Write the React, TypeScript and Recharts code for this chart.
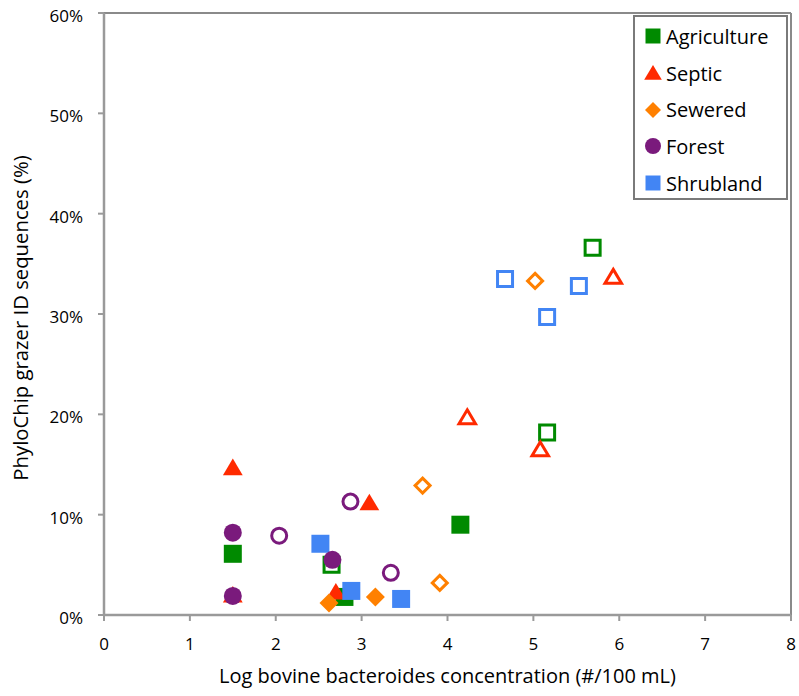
import React from 'react';
import {
  ScatterChart, Scatter, XAxis, YAxis, ReferenceLine, Label,
} from 'recharts';

// ---- data (x = log bovine bacteroides, y = % grazer ID sequences) ----
const agricultureFilled = [
  { x: 2.8, y: 1.8 }, { x: 1.5, y: 6.1 }, { x: 4.15, y: 9.0 },
];
const agricultureOpen = [
  { x: 2.65, y: 5.0 }, { x: 5.16, y: 18.2 }, { x: 5.69, y: 36.6 },
];
const septicFilled = [
  { x: 1.5, y: 2.0 }, { x: 2.7, y: 2.3 }, { x: 1.5, y: 14.7 }, { x: 3.09, y: 11.2 },
];
const septicOpen = [
  { x: 4.23, y: 19.7 }, { x: 5.08, y: 16.5 }, { x: 5.93, y: 33.7 },
];
const seweredFilled = [
  { x: 2.62, y: 1.2 }, { x: 3.16, y: 1.8 },
];
const seweredOpen = [
  { x: 3.71, y: 12.9 }, { x: 3.91, y: 3.2 }, { x: 5.02, y: 33.3 },
];
const forestFilled = [
  { x: 1.5, y: 8.2 }, { x: 1.5, y: 1.9 }, { x: 2.66, y: 5.5 },
];
const forestOpen = [
  { x: 2.04, y: 7.9 }, { x: 2.87, y: 11.3 }, { x: 3.34, y: 4.2 },
];
const shrublandFilled = [
  { x: 2.52, y: 7.1 }, { x: 2.88, y: 2.4 }, { x: 3.46, y: 1.6 },
];
const shrublandOpen = [
  { x: 4.67, y: 33.5 }, { x: 5.16, y: 29.7 }, { x: 5.53, y: 32.8 },
];

const xTicks = [0, 1, 2, 3, 4, 5, 6, 7, 8];
const yTicks = [0, 10, 20, 30, 40, 50, 60];

const GREEN = '#008A00';
const RED = '#FF2A00';
const ORANGE = '#FF8000';
const PURPLE = '#7A1A7C';
const BLUE = '#4285F4';

type Kind = 'square' | 'triangle' | 'diamond' | 'circle';

const legendItems: { name: string; color: string; kind: Kind }[] = [
  { name: 'Agriculture', color: GREEN, kind: 'square' },
  { name: 'Septic', color: RED, kind: 'triangle' },
  { name: 'Sewered', color: ORANGE, kind: 'diamond' },
  { name: 'Forest', color: PURPLE, kind: 'circle' },
  { name: 'Shrubland', color: BLUE, kind: 'square' },
];

const FONT = '"Open Sans", "Noto Sans", sans-serif';

function markerPath(kind: Kind, cx: number, cy: number, s: number): string {
  const h = s / 2;
  if (kind === 'square') {
    return `M${cx - h},${cy - h}H${cx + h}V${cy + h}H${cx - h}Z`;
  }
  if (kind === 'triangle') {
    return `M${cx},${cy - h}L${cx + h * 1.1},${cy + h * 0.85}L${cx - h * 1.1},${cy + h * 0.85}Z`;
  }
  if (kind === 'diamond') {
    return `M${cx},${cy - h}L${cx + h},${cy}L${cx},${cy + h}L${cx - h},${cy}Z`;
  }
  return '';
}

function makeShape(kind: Kind, color: string, filled: boolean) {
  return (props: any) => {
    const { cx, cy } = props;
    if (cx == null || cy == null) return <g />;
    if (kind === 'circle') {
      return filled ? (
        <circle cx={cx} cy={cy} r={9} fill={color} />
      ) : (
        <circle cx={cx} cy={cy} r={7.5} fill="#fff" stroke={color} strokeWidth={3} />
      );
    }
    const size = filled ? (kind === 'diamond' ? 19 : 18) : 15;
    const d = markerPath(kind, cx, cy, size);
    return filled ? (
      <path d={d} fill={color} />
    ) : (
      <path d={d} fill="#fff" stroke={color} strokeWidth={3} strokeLinejoin="miter" />
    );
  };
}

function LegendBox() {
  return (
    <div
      style={{
        position: 'absolute',
        left: 633,
        top: 15,
        border: '2px solid #7a7a7a',
        background: '#fff',
        width: 155,
        height: 185,
        boxSizing: 'border-box',
        padding: '1px 0 0 9px',
        fontFamily: FONT,
        fontSize: 20,
        color: '#000',
      }}
    >
      {legendItems.map((it) => (
        <div key={it.name} style={{ display: 'flex', alignItems: 'center', height: 36.7 }}>
          <svg width={18} height={18} style={{ marginRight: 4 }}>
            {it.kind === 'circle' ? (
              <circle cx={9} cy={9} r={8} fill={it.color} />
            ) : (
              <path d={markerPath(it.kind, 9, 9, it.kind === 'square' ? 15 : 16)} fill={it.color} />
            )}
          </svg>
          <span>{it.name}</span>
        </div>
      ))}
    </div>
  );
}

export default function App() {
  return (
    <div style={{ position: 'absolute', left: 0, top: 0, width: 799, height: 696, background: '#fff' }}>
      <ScatterChart
        width={799}
        height={696}
        margin={{ top: 13, right: 8, bottom: 0, left: 0 }}
      >
        <XAxis
          type="number"
          dataKey="x"
          domain={[0, 8]}
          ticks={xTicks}
          interval={0}
          height={81}
          tickSize={6}
          tickMargin={17}
          tick={{ fill: '#000', fontSize: 17, fontFamily: FONT }}
          axisLine={{ stroke: '#9a9a9a', strokeWidth: 2.5 }}
          tickLine={{ stroke: '#9a9a9a', strokeWidth: 2 }}
        >
          <Label
            value="Log bovine bacteroides concentration (#/100 mL)"
            position="insideBottom"
            offset={13}
            style={{ fill: '#000', fontSize: 20, fontFamily: FONT }}
          />
        </XAxis>
        <YAxis
          type="number"
          dataKey="y"
          domain={[0, 60]}
          ticks={yTicks}
          interval={0}
          width={104}
          tickSize={6}
          tickMargin={15}
          tickFormatter={(v: number) => `${v}%`}
          tick={{ fill: '#000', fontSize: 17, fontFamily: FONT, dy: 3 }}
          axisLine={{ stroke: '#9a9a9a', strokeWidth: 2.5 }}
          tickLine={{ stroke: '#9a9a9a', strokeWidth: 2 }}
        >
          <Label
            value="PhyloChip grazer ID sequences (%)"
            angle={-90}
            position="insideLeft"
            offset={21}
            dy={4}
            style={{ fill: '#000', fontSize: 20.3, fontFamily: FONT, textAnchor: 'middle' }}
          />
        </YAxis>
        <ReferenceLine y={60} stroke="#8a8a8a" strokeWidth={2} />
        <ReferenceLine x={8} stroke="#8a8a8a" strokeWidth={2} />

        <Scatter name="Agriculture" data={agricultureFilled} isAnimationActive={false} shape={makeShape('square', GREEN, true)} />
        <Scatter name="Septic" data={septicFilled} isAnimationActive={false} shape={makeShape('triangle', RED, true)} />
        <Scatter name="Shrubland" data={shrublandFilled} isAnimationActive={false} shape={makeShape('square', BLUE, true)} />
        <Scatter name="Sewered" data={seweredFilled} isAnimationActive={false} shape={makeShape('diamond', ORANGE, true)} />
        <Scatter name="Agriculture open" data={agricultureOpen} isAnimationActive={false} shape={makeShape('square', GREEN, false)} />
        <Scatter name="Forest" data={forestFilled} isAnimationActive={false} shape={makeShape('circle', PURPLE, true)} />
        <Scatter name="Septic open" data={septicOpen} isAnimationActive={false} shape={makeShape('triangle', RED, false)} />
        <Scatter name="Sewered open" data={seweredOpen} isAnimationActive={false} shape={makeShape('diamond', ORANGE, false)} />
        <Scatter name="Forest open" data={forestOpen} isAnimationActive={false} shape={makeShape('circle', PURPLE, false)} />
        <Scatter name="Shrubland open" data={shrublandOpen} isAnimationActive={false} shape={makeShape('square', BLUE, false)} />
      </ScatterChart>
      <LegendBox />
    </div>
  );
}
